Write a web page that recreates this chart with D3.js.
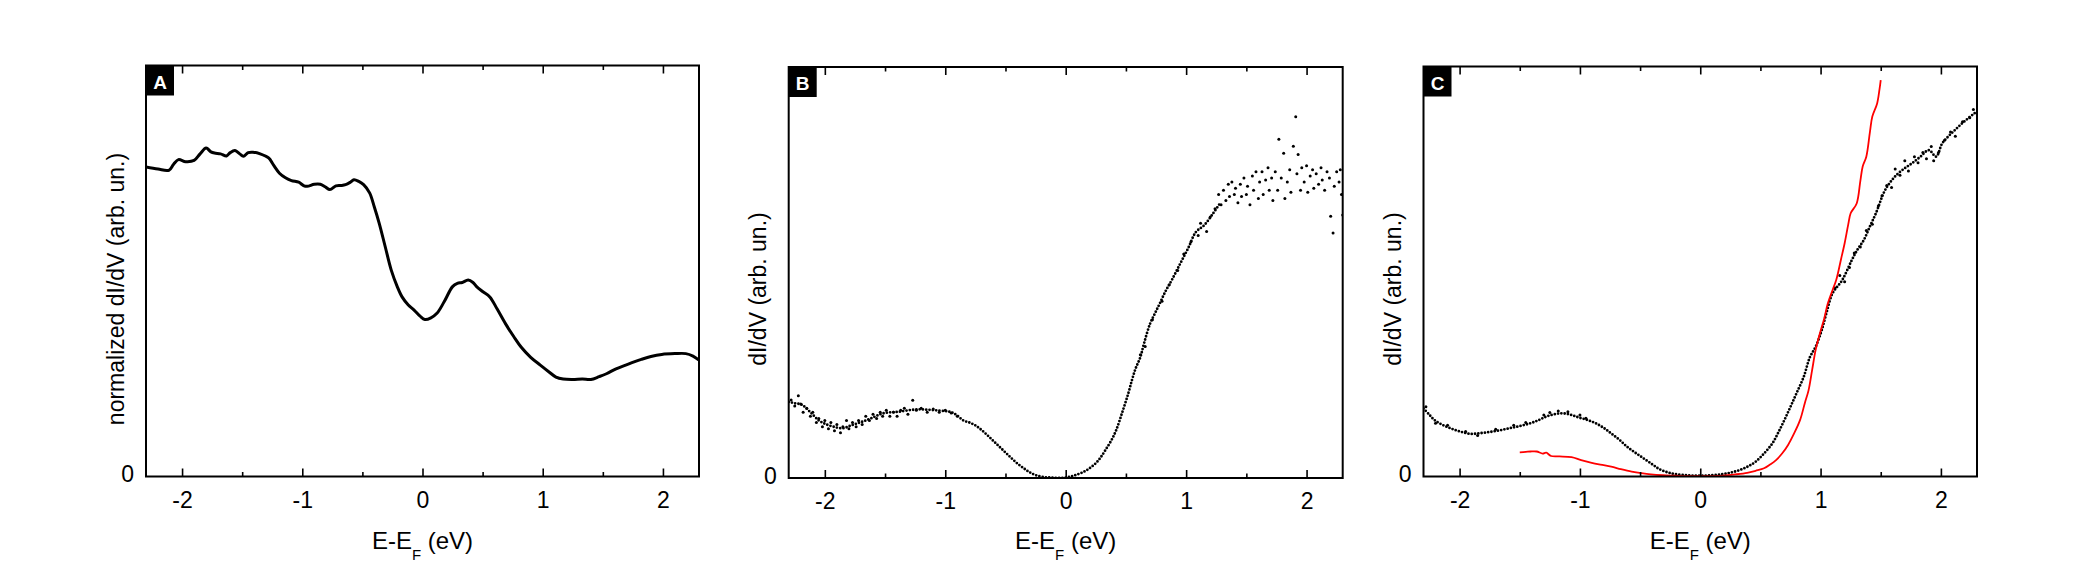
<!DOCTYPE html>
<html>
<head>
<meta charset="utf-8">
<script src="https://cdn.jsdelivr.net/npm/d3@7"></script>
<style>
    body { margin: 0; background: #fff; }
    svg text { font-family: "Liberation Sans", Arial, sans-serif; fill: #000; }
</style>
</head>
<body>
<div id="figure"></div>
<script>
// tick values shared by all three panels (eV)
const majorTicks = [-2, -1, 0, 1, 2];
const minorTicks = [-1.5, -0.5, 0.5, 1.5];
const energyRange = [-2.3, 2.3];

// panel A: normalized dI/dV, [E, value] (value as fraction of the frame height)
const panelALine = [
    [-2.30,0.753],[-2.20,0.748],[-2.11,0.745],[-2.07,0.760],[-2.03,0.771],[-1.97,0.766],[-1.90,0.769],
    [-1.85,0.785],[-1.80,0.799],[-1.76,0.790],[-1.73,0.787],[-1.68,0.785],[-1.63,0.780],[-1.60,0.788],
    [-1.56,0.793],[-1.52,0.785],[-1.49,0.779],[-1.45,0.788],[-1.41,0.789],[-1.35,0.785],[-1.28,0.775],
    [-1.24,0.758],[-1.19,0.738],[-1.14,0.727],[-1.09,0.720],[-1.03,0.716],[-0.99,0.708],[-0.96,0.706],
    [-0.90,0.711],[-0.85,0.711],[-0.81,0.705],[-0.77,0.698],[-0.72,0.707],[-0.68,0.708],[-0.64,0.710],
    [-0.60,0.716],[-0.57,0.722],[-0.53,0.718],[-0.49,0.710],[-0.44,0.690],[-0.40,0.655],[-0.36,0.616],
    [-0.31,0.559],[-0.26,0.502],[-0.21,0.462],[-0.17,0.437],[-0.12,0.418],[-0.07,0.405],[-0.02,0.390],
    [0.02,0.382],[0.07,0.386],[0.12,0.397],[0.18,0.425],[0.25,0.462],[0.29,0.470],[0.33,0.472],
    [0.38,0.478],[0.42,0.472],[0.45,0.462],[0.50,0.450],[0.56,0.437],[0.62,0.408],[0.69,0.372],
    [0.76,0.340],[0.82,0.315],[0.90,0.290],[0.98,0.271],[1.05,0.255],[1.11,0.242],[1.17,0.237],
    [1.25,0.236],[1.33,0.237],[1.40,0.236],[1.47,0.243],[1.53,0.250],[1.61,0.262],[1.69,0.271],
    [1.76,0.279],[1.82,0.285],[1.90,0.292],[1.99,0.297],[2.10,0.299],[2.19,0.299],[2.25,0.293],[2.30,0.283]
];

// panel B: dI/dV, dense part of the curve
const panelBTrend = [
    [-2.30,0.185],[-2.25,0.182],[-2.19,0.178],[-2.12,0.160],[-2.05,0.140],[-2.00,0.132],[-1.93,0.125],
    [-1.85,0.121],[-1.79,0.127],[-1.72,0.134],[-1.65,0.141],[-1.58,0.150],[-1.52,0.157],[-1.45,0.160],
    [-1.39,0.161],[-1.30,0.165],[-1.22,0.167],[-1.14,0.166],[-1.05,0.164],[-0.98,0.162],[-0.94,0.159],
    [-0.90,0.152],[-0.85,0.140],[-0.80,0.135],[-0.75,0.128],[-0.70,0.117],[-0.65,0.104],[-0.60,0.090],
    [-0.55,0.076],[-0.50,0.062],[-0.45,0.048],[-0.40,0.035],[-0.35,0.024],[-0.30,0.014],[-0.25,0.007],
    [-0.18,0.002],[-0.12,0.001],[-0.05,0.000],[0.02,0.002],[0.08,0.007],[0.15,0.015],[0.20,0.024],
    [0.25,0.036],[0.29,0.050],[0.33,0.068],[0.38,0.092],[0.42,0.117],[0.47,0.160],[0.52,0.206],
    [0.55,0.238],[0.58,0.266],[0.62,0.294],[0.65,0.327],[0.70,0.375],[0.74,0.400],[0.78,0.424],
    [0.83,0.455],[0.88,0.481],[0.95,0.521],[1.02,0.561],[1.08,0.598],[1.15,0.615],[1.22,0.642],[1.28,0.668]
];

// panel B: noisy single points
const panelBScatter = [
    [-2.28,0.190],[-2.25,0.175],[-2.22,0.200],[-2.20,0.180],[-2.18,0.160],[-2.15,0.170],[-2.12,0.150],
    [-2.10,0.160],[-2.07,0.135],[-2.05,0.145],[-2.02,0.125],[-2.00,0.140],[-1.97,0.120],[-1.95,0.135],
    [-1.92,0.115],[-1.90,0.130],[-1.87,0.110],[-1.85,0.125],[-1.82,0.140],[-1.80,0.120],[-1.77,0.135],
    [-1.74,0.125],[-1.72,0.140],[-1.69,0.130],[-1.66,0.150],[-1.63,0.140],[-1.60,0.155],[-1.57,0.145],
    [-1.54,0.160],[-1.52,0.150],[-1.49,0.165],[-1.46,0.150],[-1.43,0.160],[-1.40,0.150],[-1.37,0.165],
    [-1.34,0.170],[-1.31,0.155],[-1.27,0.189],[-1.24,0.165],[-1.20,0.170],[-1.15,0.160],[-1.10,0.168],
    [-1.05,0.160],[-1.00,0.165],[-0.95,0.158],[-0.90,0.150],
    [0.62,0.300],[0.66,0.320],[0.72,0.385],[0.80,0.430],[0.86,0.470],[0.93,0.505],[0.98,0.545],
    [1.04,0.575],[1.10,0.590],[1.12,0.620],[1.17,0.600],[1.20,0.635],
    [1.24,0.655],[1.27,0.690],[1.29,0.665],[1.31,0.700],[1.33,0.675],[1.35,0.715],[1.36,0.685],
    [1.38,0.720],[1.40,0.690],[1.41,0.705],[1.43,0.670],[1.45,0.715],[1.46,0.685],[1.48,0.730],
    [1.50,0.690],[1.51,0.710],[1.53,0.665],[1.55,0.735],[1.56,0.700],[1.58,0.745],[1.60,0.680],
    [1.61,0.720],[1.63,0.745],[1.64,0.690],[1.66,0.725],[1.68,0.755],[1.69,0.700],[1.71,0.730],
    [1.72,0.675],[1.74,0.745],[1.76,0.700],[1.77,0.824],[1.79,0.730],[1.81,0.790],[1.82,0.680],
    [1.84,0.720],[1.86,0.750],[1.87,0.695],[1.89,0.807],[1.91,0.879],[1.92,0.740],[1.93,0.787],
    [1.95,0.700],[1.96,0.755],[1.98,0.720],[2.00,0.760],[2.01,0.695],[2.03,0.735],[2.05,0.750],
    [2.06,0.705],[2.08,0.740],[2.10,0.715],[2.12,0.755],[2.13,0.725],[2.15,0.700],[2.17,0.745],
    [2.19,0.730],[2.20,0.637],[2.22,0.596],[2.23,0.710],[2.25,0.745],[2.27,0.720],[2.28,0.750],
    [2.29,0.690],[2.30,0.640]
];

// panel C: measured dI/dV (black points)
const panelCTrend = [
    [-2.30,0.166],[-2.25,0.150],[-2.21,0.138],[-2.15,0.127],[-2.08,0.118],[-2.00,0.110],[-1.91,0.104],
    [-1.82,0.106],[-1.74,0.109],[-1.66,0.113],[-1.58,0.118],[-1.50,0.123],[-1.41,0.130],[-1.34,0.138],
    [-1.28,0.146],[-1.21,0.152],[-1.14,0.154],[-1.07,0.150],[-1.01,0.144],[-0.94,0.138],[-0.87,0.130],
    [-0.80,0.118],[-0.74,0.105],[-0.67,0.089],[-0.61,0.073],[-0.54,0.058],[-0.47,0.044],[-0.40,0.030],
    [-0.34,0.018],[-0.27,0.010],[-0.21,0.006],[-0.11,0.003],[-0.01,0.002],[0.09,0.003],[0.19,0.006],
    [0.26,0.010],[0.33,0.016],[0.40,0.025],[0.46,0.036],[0.53,0.056],[0.60,0.081],[0.65,0.108],
    [0.70,0.138],[0.75,0.170],[0.80,0.203],[0.86,0.243],[0.91,0.290],[0.96,0.317],[1.01,0.357],
    [1.05,0.400],[1.10,0.447],[1.18,0.479],[1.26,0.528],[1.31,0.555],[1.36,0.577],[1.41,0.610],
    [1.46,0.642],[1.53,0.695],[1.58,0.718],[1.63,0.735],[1.70,0.752],[1.76,0.764],[1.83,0.780],
    [1.90,0.796],[1.96,0.780],[2.01,0.812],[2.06,0.829],[2.11,0.843],[2.16,0.857],[2.22,0.872],
    [2.28,0.886],[2.30,0.890]
];

const panelCScatter = [
    [-2.28,0.170],[-2.20,0.130],[-2.10,0.125],[-1.95,0.110],[-1.85,0.100],[-1.70,0.115],[-1.55,0.125],
    [-1.45,0.132],[-1.30,0.150],[-1.25,0.156],[-1.18,0.160],[-1.10,0.158],[-1.00,0.150],[-0.95,0.142],
    [1.12,0.460],[1.16,0.490],[1.20,0.475],[1.24,0.510],[1.28,0.545],[1.33,0.560],[1.38,0.600],
    [1.43,0.615],[1.48,0.660],[1.51,0.685],[1.55,0.710],[1.59,0.705],[1.62,0.750],[1.66,0.735],
    [1.70,0.770],[1.73,0.745],[1.78,0.780],[1.81,0.765],[1.85,0.790],[1.88,0.775],[1.92,0.805],
    [1.94,0.770],[1.98,0.790],[2.03,0.820],[2.08,0.840],[2.12,0.830],[2.18,0.865],[2.24,0.875],[2.27,0.895]
];

// panel C: comparison curve (red line)
const panelCRed = [
    [-1.50,0.059],[-1.45,0.060],[-1.41,0.061],[-1.36,0.061],[-1.31,0.056],[-1.28,0.058],[-1.24,0.050],
    [-1.17,0.049],[-1.07,0.047],[-0.99,0.040],[-0.91,0.034],[-0.83,0.029],[-0.74,0.024],[-0.66,0.018],
    [-0.57,0.012],[-0.49,0.008],[-0.41,0.005],[-0.31,0.003],[-0.21,0.002],[-0.11,0.001],[-0.01,0.001],
    [0.09,0.001],[0.19,0.002],[0.29,0.005],[0.39,0.009],[0.46,0.014],[0.53,0.020],[0.58,0.029],
    [0.63,0.040],[0.68,0.056],[0.73,0.077],[0.78,0.105],[0.83,0.138],[0.87,0.180],[0.90,0.210],
    [0.93,0.260],[0.96,0.310],[1.00,0.355],[1.03,0.385],[1.06,0.422],[1.10,0.455],[1.13,0.479],
    [1.17,0.530],[1.20,0.569],[1.23,0.615],[1.25,0.642],[1.30,0.666],[1.33,0.720],[1.35,0.756],
    [1.38,0.780],[1.41,0.840],[1.43,0.878],[1.47,0.910],[1.49,0.945],[1.50,0.967]
];

// plain hyphen minus, as in the original figure
const plainLabel = d => String(d);

class SpectrumPanel {
    /**
     * One framed panel of the figure
     *
     * @param svg   parent svg selection
     * @param frame {left,right,top,bottom} of the plot frame in px
     */
    constructor(svg, id, frame, letter, yTitle) {
        this.frame = frame;
        this.g = svg.append("g").attr("id", "panel" + letter);

        this.x = d3.scaleLinear().domain(energyRange).range([frame.left, frame.right]);
        this.y = d3.scaleLinear().domain([0, 1]).range([frame.bottom, frame.top]);

        // clip the data to the frame
        this.clipId = "clip" + id;
        this.g.append("clipPath").attr("id", this.clipId)
            .append("rect")
            .attr("x", frame.left)
            .attr("y", frame.top)
            .attr("width", frame.right - frame.left)
            .attr("height", frame.bottom - frame.top);
        this.data = this.g.append("g").attr("clip-path", `url(#${this.clipId})`);

        this.letter = letter;
        this.yTitle = yTitle;
    };

    drawAxes() {
        let f = this.frame;

        //major ticks + labels on the bottom
        this.g.append("g")
            .attr("transform", `translate(0,${f.bottom})`)
            .call(d3.axisBottom(this.x).tickValues(majorTicks).tickSizeInner(-8).tickSizeOuter(0)
                .tickPadding(15).tickFormat(plainLabel))
            .call(a => a.select(".domain").remove())
            .call(a => a.selectAll("text").attr("font-size", 23).attr("font-family", null));
        this.g.append("g")
            .attr("transform", `translate(0,${f.bottom})`)
            .call(d3.axisBottom(this.x).tickValues(minorTicks).tickSizeInner(-4.5).tickSizeOuter(0).tickFormat(""))
            .call(a => a.select(".domain").remove());

        //same ticks on top, pointing down
        this.g.append("g")
            .attr("transform", `translate(0,${f.top})`)
            .call(d3.axisTop(this.x).tickValues(majorTicks).tickSizeInner(-8).tickSizeOuter(0).tickFormat(""))
            .call(a => a.select(".domain").remove());
        this.g.append("g")
            .attr("transform", `translate(0,${f.top})`)
            .call(d3.axisTop(this.x).tickValues(minorTicks).tickSizeInner(-4.5).tickSizeOuter(0).tickFormat(""))
            .call(a => a.select(".domain").remove());

        //only the zero is labelled on y
        this.g.append("g")
            .attr("transform", `translate(${f.left},0)`)
            .call(d3.axisLeft(this.y).tickValues([0]).tickSize(0).tickPadding(12).tickFormat(plainLabel))
            .call(a => a.select(".domain").remove())
            .call(a => a.selectAll("text").attr("font-size", 23).attr("font-family", null).attr("dy", "0.22em"));

        this.g.selectAll(".tick line").attr("stroke", "#000").attr("stroke-width", 1.6);

        this.g.append("rect")
            .attr("x", f.left)
            .attr("y", f.top)
            .attr("width", f.right - f.left)
            .attr("height", f.bottom - f.top)
            .attr("fill", "none")
            .attr("stroke", "#000")
            .attr("stroke-width", 2);

        // E-E_F (eV)
        let xTitle = this.g.append("text")
            .attr("x", (f.left + f.right) / 2)
            .attr("y", 549)
            .attr("font-size", 24)
            .style("text-anchor", "middle");
        xTitle.append("tspan").text("E-E");
        xTitle.append("tspan").text("F").attr("font-size", 15).attr("dy", 11);
        xTitle.append("tspan").text(" (eV)").attr("dy", -11);

        this.g.append("text")
            .attr("transform", `translate(${f.left - 22.5},289) rotate(-90)`)
            .attr("font-size", 23)
            .style("text-anchor", "middle")
            .text(this.yTitle);

        //panel letter in a black box
        this.g.append("rect")
            .attr("x", f.left)
            .attr("y", f.top)
            .attr("width", 28)
            .attr("height", 30)
            .attr("fill", "#000");
        this.g.append("text")
            .attr("x", f.left + 14)
            .attr("y", f.top + 23)
            .attr("font-size", 19)
            .attr("font-weight", "bold")
            .style("fill", "#fff")
            .style("text-anchor", "middle")
            .text(this.letter);
    };

    line(data, color, width) {
        this.data.append("path")
            .datum(data)
            .attr("d", d3.line().x(d => this.x(d[0])).y(d => this.y(d[1])).curve(d3.curveCatmullRom))
            .attr("fill", "none")
            .attr("stroke", color)
            .attr("stroke-width", width)
            .attr("stroke-linejoin", "round");
    };

    // measured points that sit close together: a beaded line
    dottedTrend(data) {
        this.data.append("path")
            .datum(data)
            .attr("d", d3.line().x(d => this.x(d[0])).y(d => this.y(d[1])).curve(d3.curveCatmullRom))
            .attr("fill", "none")
            .attr("stroke", "#000")
            .attr("stroke-width", 2.8)
            .attr("stroke-linecap", "round")
            .attr("stroke-dasharray", "0,3.3");
    };

    dots(data) {
        this.data.selectAll("circle.pt" + this.letter)
            .data(data)
            .enter()
            .append("circle")
            .attr("class", "pt" + this.letter)
            .attr("cx", d => this.x(d[0]))
            .attr("cy", d => this.y(d[1]))
            .attr("r", 1.5)
            .attr("fill", "#000");
    };
}

let svg = d3.select("#figure").append("svg")
    .attr("width", 2090)
    .attr("height", 573);

let panelA = new SpectrumPanel(svg, "a", {left: 146, right: 699, top: 65.5, bottom: 476.5}, "A", "normalized dI/dV (arb. un.)");
panelA.line(panelALine, "#000", 3);
panelA.drawAxes();

let panelB = new SpectrumPanel(svg, "b", {left: 788.7, right: 1342.7, top: 67, bottom: 478}, "B", "dI/dV (arb. un.)");
panelB.dottedTrend(panelBTrend);
panelB.dots(panelBScatter);
panelB.drawAxes();

let panelC = new SpectrumPanel(svg, "c", {left: 1423.5, right: 1977, top: 66.5, bottom: 476.5}, "C", "dI/dV (arb. un.)");
panelC.dottedTrend(panelCTrend);
panelC.dots(panelCScatter);
panelC.line(panelCRed, "#ff0000", 1.8);
panelC.drawAxes();
</script>
</body>
</html>
